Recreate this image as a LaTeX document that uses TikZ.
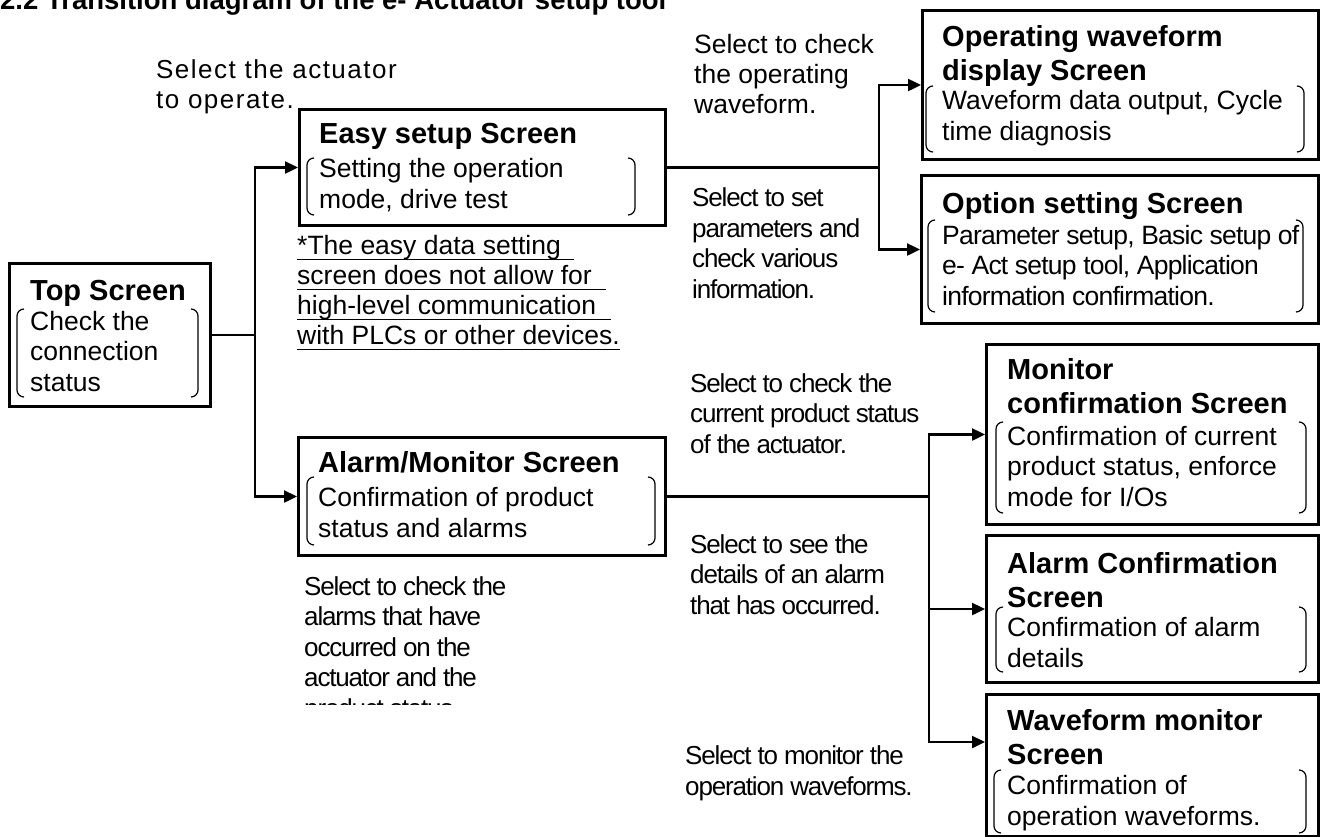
\documentclass[tikz,border=0pt]{standalone}
\usepackage{fontspec}
\setmainfont{Liberation Sans}
\newfontfamily\lsnarrow[LetterSpace=-4.5]{Liberation Sans}
\newfontfamily\lscond[LetterSpace=-2.9]{Liberation Sans}
\newfontfamily\lswide[LetterSpace=5.7]{Liberation Sans}
\usetikzlibrary{arrows.meta,calc}
\tikzset{
  box/.style={draw, line width=3pt, inner sep=0pt, anchor=north west},
  conn/.style={line width=2.4pt},
  arr/.style={conn, -{Triangle[length=13pt,width=12pt]}},
  brkline/.style={line width=1.2pt, rounded corners=7pt},
  ttl/.style={inner sep=0pt, anchor=base west, align=left, font=\fontsize{29pt}{34pt}\selectfont\bfseries},
  bdy/.style={inner sep=0pt, anchor=base west, align=left, font=\fontsize{26.5pt}{30.3pt}\selectfont},
  bdyc/.style={bdy, font=\lscond\fontsize{26.5pt}{30.5pt}\selectfont},
  lbl/.style={inner sep=0pt, anchor=base west, align=left, font=\lsnarrow\fontsize{26pt}{30.5pt}\selectfont},
  lbln/.style={inner sep=0pt, anchor=base west, align=left, font=\fontsize{26.5pt}{30pt}\selectfont},
  lblw/.style={inner sep=0pt, anchor=base west, align=left, font=\lswide\fontsize{26pt}{30pt}\selectfont},
  note/.style={inner sep=0pt, anchor=base west, font=\fontsize{26.5pt}{30pt}\selectfont},
  uline/.style={line width=1.6pt}
}
% multi-line nodes are placed by the baseline of their LAST line
\newcommand\brk[4]{%
  \draw[brkline] (#1+7,#3) -- (#1,#3) -- (#1,#4) -- (#1+7,#4);
  \draw[brkline] (#2-7,#3) -- (#2,#3) -- (#2,#4) -- (#2-7,#4);}
\begin{document}
\begin{tikzpicture}[x=1pt,y=-1pt]
\useasboundingbox (0,0) rectangle (1323,836);
\fill[white] (0,0) rectangle (1323,836);

% title (cut at top)
\node[inner sep=0pt, anchor=base west, font=\fontsize{27.5pt}{30pt}\selectfont\bfseries] (title) at (0,9) {2.2 Transition diagram of the e- Actuator setup tool};

% boxes
\node[box, minimum width=201pt, minimum height=143pt] (top) at (8,262) {};
\node[box, minimum width=366pt, minimum height=116pt] (easy) at (298,108) {};
\node[box, minimum width=367pt, minimum height=118pt] (alarm) at (297,436) {};
\node[box, minimum width=396pt, minimum height=149pt] (op) at (921,9) {};
\node[box, minimum width=397pt, minimum height=148pt] (opt) at (920,174) {};
\node[box, minimum width=332pt, minimum height=180pt] (mon) at (985,343) {};
\node[box, minimum width=332pt, minimum height=147pt] (alc) at (985,534) {};
\node[box, minimum width=332pt, minimum height=142pt] (wf) at (985,693) {};

% box texts
\node[ttl] (topT) at (30,300) {Top Screen};
\node[bdy] (topB) at (30,391) {Check the\\connection\\status};
\brk{17}{198}{309}{397}

\node[ttl] (easyT) at (319,143) {Easy setup Screen};
\node[bdy] (easyB) at (319,208) {Setting the operation\\mode, drive test};
\brk{307}{635}{158}{215}

\node[ttl] (alarmT) at (318,472) {Alarm/Monitor Screen};
\node[bdy] (alarmB) at (318,537) {Confirmation of product\\status and alarms};
\brk{307}{655}{477}{545}

\node[ttl] (opT) at (942,80) {Operating waveform\\display Screen};
\node[bdy] (opB) at (942,140) {Waveform data output, Cycle\\time diagnosis};
\brk{926}{1304}{86}{152}

\node[ttl] (optT) at (942,213) {Option setting Screen};
\node[bdyc] (optB) at (942,305) {Parameter setup, Basic setup of\\e- Act setup tool, Application\\information confirmation.};
\brk{928}{1303}{220}{312}

\node[ttl] (monT) at (1007,413) {Monitor\\confirmation Screen};
\node[bdy] (monB) at (1007,506) {Confirmation of current\\product status, enforce\\mode for I/Os};
\brk{996}{1306}{422}{513}

\node[ttl] (alcT) at (1007,607) {Alarm Confirmation\\Screen};
\node[bdy] (alcB) at (1007,667) {Confirmation of alarm\\details};
\brk{996}{1306}{607}{672}

\node[ttl] (wfT) at (1007,764) {Waveform monitor\\Screen};
\node[bdy] (wfB) at (1007,825) {Confirmation of\\operation waveforms.};
\brk{994}{1306}{770}{833}

% note (underlined)
\node[note] (n1) at (297,254) {*The easy data setting};
\node[note] (n2) at (297,284) {screen does not allow for};
\node[note] (n3) at (297,314) {high-level communication};
\node[note] (n4) at (297,344) {with PLCs or other devices.};
\draw[uline] ($(n1.base west)+(0,5.5)$) -- ++(277,0);
\draw[uline] ($(n2.base west)+(0,5.5)$) -- ++(309,0);
\draw[uline] ($(n3.base west)+(0,5.5)$) -- ++(314,0);
\draw[uline] ($(n4.base west)+(0,5.5)$) -- ($(n4.base east)+(0,5.5)$);

% labels
\node[lblw] (l0) at (156,108) {Select the actuator\\to operate.};
\node[lbln] (l1) at (694,113) {Select to check\\the operating\\waveform.};
\node[lbl] (l2) at (692,298) {Select to set\\parameters and\\check various\\information.};
\node[lbl] (l3) at (690,453) {Select to check the\\current product status\\of the actuator.};
\node[lbl] (l4) at (690,614) {Select to see the\\details of an alarm\\that has occurred.};
\node[lbl] (l5) at (685,795) {Select to monitor the\\operation waveforms.};
\begin{scope}
\clip (0,0) rectangle (680,704);
\node[lbl] (l6) at (304,717) {Select to check the\\alarms that have\\occurred on the\\actuator and the\\product status.};
\end{scope}

% connectors
\coordinate (j1) at ($(top.east)+(43,0)$);
\draw[conn] (top.east) -- (j1);
\draw[arr] (j1) |- (easy.west);
\draw[arr] (j1) |- (alarm.west);

\coordinate (j2) at ($(easy.east)+(212,0)$);
\draw[conn] (easy.east) -- (j2);
\draw[arr] (j2) |- (op.west);
\draw[arr] (j2) |- (opt.west);

\coordinate (j3) at ($(alarm.east)+(262,0)$);
\coordinate (wfin) at ($(wf.north west)+(0,49)$);
\draw[conn] (alarm.east) -- (j3);
\draw[arr] (j3) |- (mon.west);
\draw[arr] (j3) |- (alc.west);
\draw[arr] (j3) |- (wfin);
\end{tikzpicture}
\end{document}
